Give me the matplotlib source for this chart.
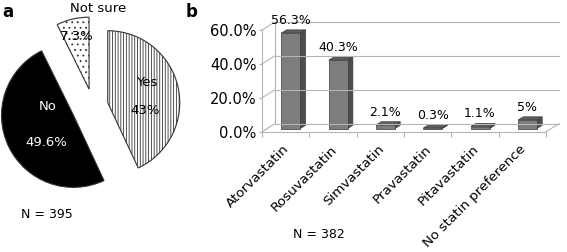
import matplotlib
matplotlib.use("Agg")
import matplotlib.pyplot as plt

# ── Data ────────────────────────────────────────────────────────────────
PIE_LABELS = ["Yes", "No", "Not sure"]
PIE_VALUES = [43.0, 49.6, 7.3]
PIE_N = 395

STATINS = ["Atorvastatin", "Rosuvastatin", "Simvastatin", "Pravastatin",
           "Pitavastatin", "No statin preference"]
STATIN_PCT = [56.3, 40.3, 2.1, 0.3, 1.1, 5.0]
STATIN_LABELS = ["56.3%", "40.3%", "2.1%", "0.3%", "1.1%", "5%"]
STATIN_N = 382
Y_TICKS = [0, 20, 40, 60]

W, H = 567, 252
plt.rcParams["font.family"] = "DejaVu Sans"
plt.rcParams["hatch.linewidth"] = 0.6
fig = plt.figure(figsize=(W / 100, H / 100), dpi=100)


def px(x, y):
    """pixel position (from top-left) -> figure fraction"""
    return x / W, 1 - y / H


# ── a) pie ──────────────────────────────────────────────────────────────
ax1 = fig.add_axes([3 / W, 56 / H, 180 / W, 180 / H])
wedges, _ = ax1.pie(PIE_VALUES, startangle=90, counterclock=False,
                    explode=[0.21, 0.3, 0.24],
                    colors=["white", "black", "white"],
                    wedgeprops=dict(edgecolor="#333333", linewidth=0.8))
wedges[0].set_hatch("||||||")
wedges[2].set_hatch("...")
ax1.set_xlim(-1.25, 1.25)
ax1.set_ylim(-1.25, 1.25)

fig.text(*px(147, 82), PIE_LABELS[0], ha="center", va="center", fontsize=9.5)
fig.text(*px(145, 110), f"{PIE_VALUES[0]:g}%", ha="center", va="center", fontsize=9.5)
fig.text(*px(48, 107), PIE_LABELS[1], ha="center", va="center", fontsize=9.5, color="white")
fig.text(*px(46, 142), f"{PIE_VALUES[1]:g}%", ha="center", va="center", fontsize=9.5, color="white")
fig.text(*px(98, 8), PIE_LABELS[2], ha="center", va="center", fontsize=9.5)
fig.text(*px(77, 37), f"{PIE_VALUES[2]:g}%", ha="center", va="center", fontsize=9.5)
fig.text(*px(47, 215), f"N = {PIE_N}", ha="center", va="center", fontsize=9)
fig.text(*px(2, 12), "a", ha="left", va="center", fontsize=12, fontweight="bold")

# ── b) pseudo-3D bar chart ──────────────────────────────────────────────
x0, x1, y0, y1 = 262, 546, 131.7, 30   # front plane in pixels
ax2 = fig.add_axes([x0 / W, (H - y0) / H, (x1 - x0) / W, (y0 - y1) / H])
n = len(STATINS)
ax2.set_xlim(0, n)
ax2.set_ylim(0, 60)
for s in ax2.spines.values():
    s.set_visible(False)

DX, DY = 13 / ((x1 - x0) / n), 8 / ((y0 - y1) / 60)   # wall depth in data units
GRID = "#b5b5b5"
top = Y_TICKS[-1]

# back wall gridlines + left wall diagonals
for y in Y_TICKS:
    ax2.plot([DX, n + DX], [y + DY, y + DY], color=GRID, lw=0.8, clip_on=False)
    ax2.plot([0, DX], [y, y + DY], color=GRID, lw=0.8, clip_on=False)
ax2.plot([0, 0], [0, top], color=GRID, lw=0.8, clip_on=False)
ax2.plot([DX, DX], [DY, top + DY], color=GRID, lw=0.8, clip_on=False)
# floor
ax2.plot([0, n], [0, 0], color=GRID, lw=0.8, clip_on=False)
ax2.plot([n, n + DX], [0, DY], color=GRID, lw=0.8, clip_on=False)

# bars between depth 0.4 and 0.8
d0, d1 = 0.4, 0.8
bw = 0.4
for i, v in enumerate(STATIN_PCT):
    cx = i + 0.5 + d0 * DX
    by = d0 * DY
    xl, xr = cx - bw / 2, cx + bw / 2
    ddx, ddy = (d1 - d0) * DX, (d1 - d0) * DY
    # side face
    ax2.fill([xr, xr + ddx, xr + ddx, xr], [by, by + ddy, by + v + ddy, by + v],
             facecolor="#4d4d4d", edgecolor="#3a3a3a", lw=0.5, clip_on=False)
    # top face
    ax2.fill([xl, xr, xr + ddx, xl + ddx], [by + v, by + v, by + v + ddy, by + v + ddy],
             facecolor="#5e5e5e", edgecolor="#3a3a3a", lw=0.5, clip_on=False)
    # front face
    ax2.bar(cx, v, width=bw, bottom=by, color="#7d7d7d", edgecolor="#3a3a3a",
            lw=0.5, clip_on=False)
    ax2.annotate(STATIN_LABELS[i], (i + 0.5, v), xytext=(5, 16),
                 textcoords="offset pixels", ha="center", va="center",
                 fontsize=9, annotation_clip=False)
    ax2.annotate(STATINS[i], (i + 0.5, 0), xytext=(-3, -11),
                 textcoords="offset pixels", ha="right", va="top",
                 rotation=45, rotation_mode="anchor", fontsize=9.7,
                 annotation_clip=False)

ax2.set_yticks(Y_TICKS)
ax2.set_yticklabels([f"{t:.1f}%" for t in Y_TICKS], fontsize=10.5)
ax2.tick_params(axis="y", length=2, pad=2, color=GRID)
ax2.set_xticks(range(n + 1))
ax2.set_xticklabels([])
ax2.tick_params(axis="x", length=3.5, direction="out", color=GRID)

fig.text(*px(319, 235), f"N = {STATIN_N}", ha="center", va="center", fontsize=9)
fig.text(*px(186, 12), "b", ha="left", va="center", fontsize=12, fontweight="bold")

fig.savefig("out.png", dpi=100)
